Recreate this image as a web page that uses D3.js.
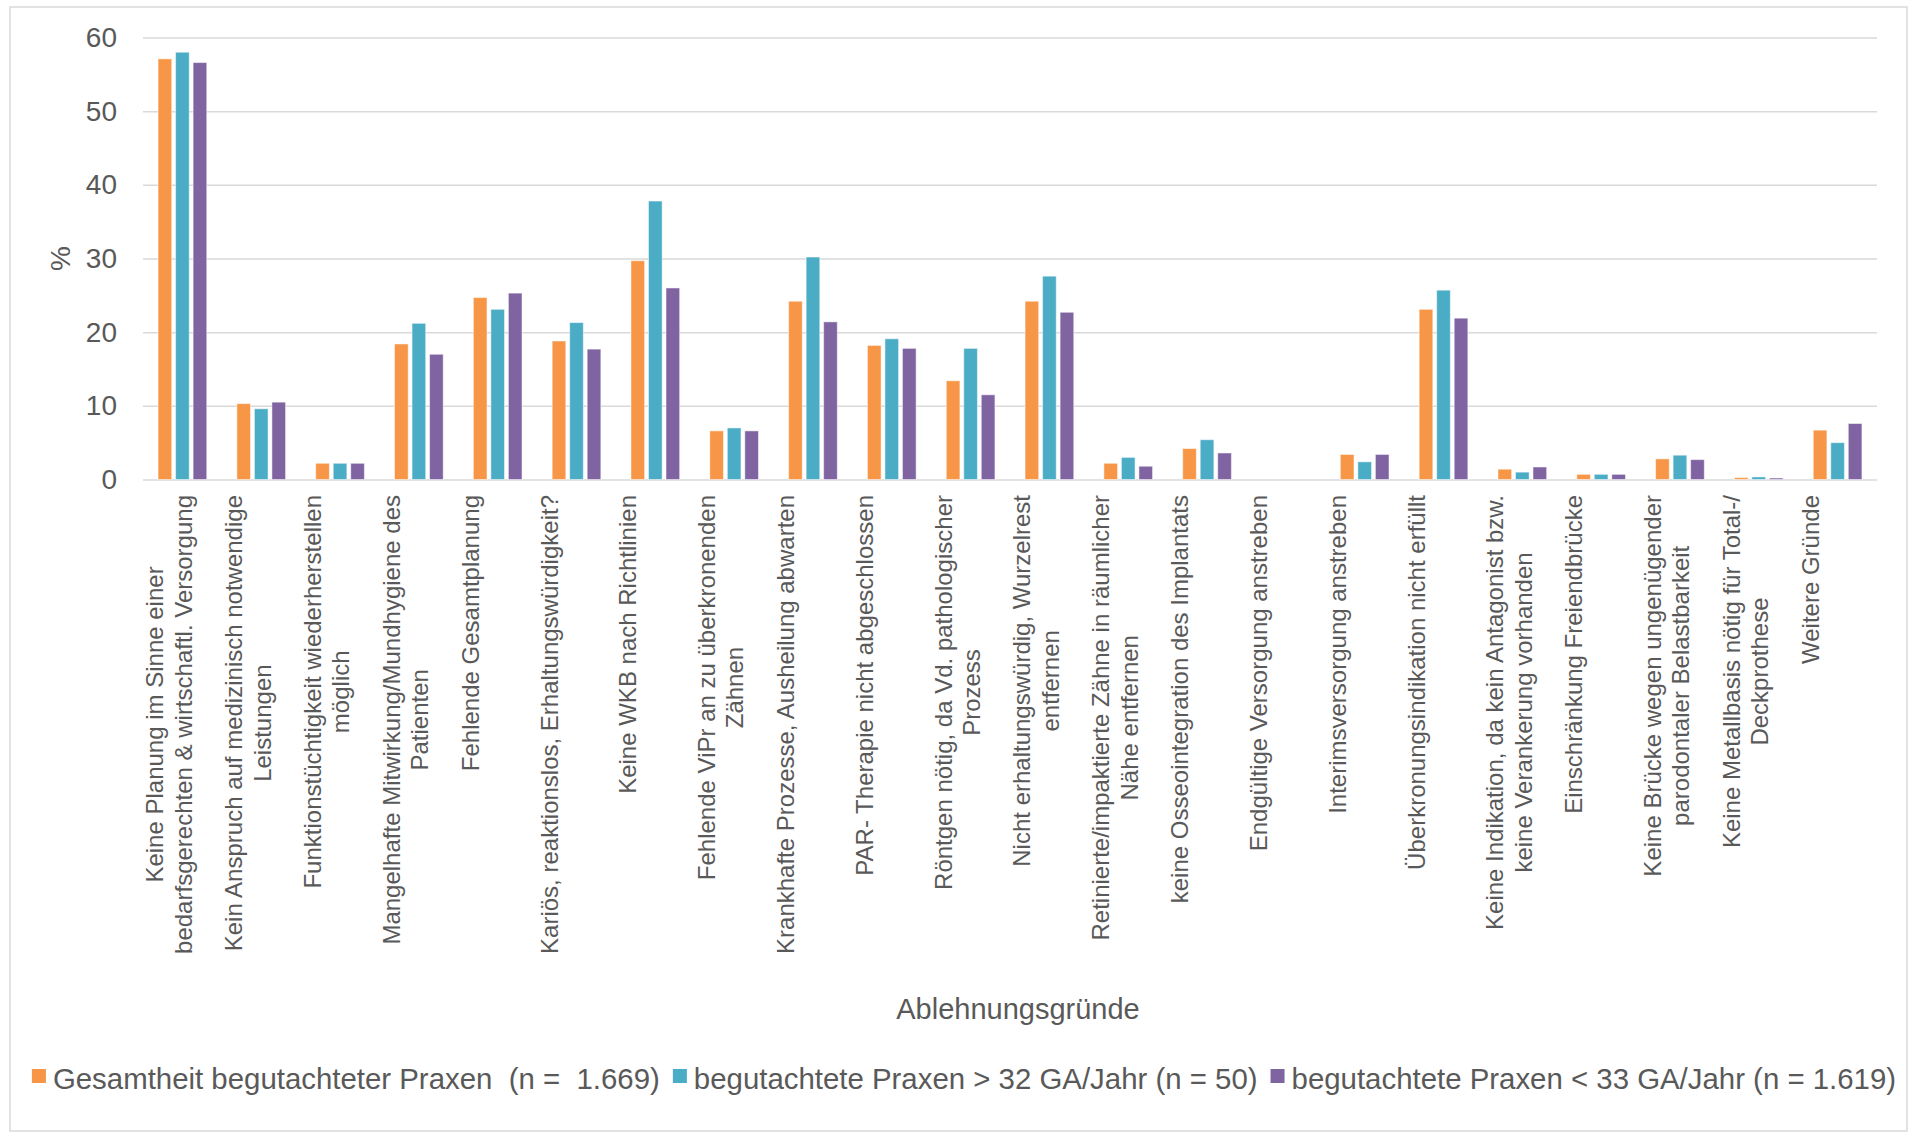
<!DOCTYPE html>
<html>
<head>
<meta charset="utf-8">
<script src="https://cdn.jsdelivr.net/npm/d3@7"></script>
<style>
  body { margin: 0; background: #fff; }
  text { font-family: Arial, "Liberation Sans", sans-serif; fill: #595959; }
</style>
</head>
<body>
<div class="container"></div>
<script>
// categories, wrapped lines split by \n
var categories = [
	"Keine Planung im Sinne einer\nbedarfsgerechten & wirtschaftl. Versorgung",
	"Kein Anspruch auf medizinisch notwendige\nLeistungen",
	"Funktionstüchtigkeit wiederherstellen\nmöglich",
	"Mangelhafte Mitwirkung/Mundhygiene des\nPatienten",
	"Fehlende Gesamtplanung",
	"Kariös, reaktionslos, Erhaltungswürdigkeit?",
	"Keine WKB nach Richtlinien",
	"Fehlende ViPr an zu überkronenden\nZähnen",
	"Krankhafte Prozesse, Ausheilung abwarten",
	"PAR- Therapie nicht abgeschlossen",
	"Röntgen nötig, da Vd. pathologischer\nProzess",
	"Nicht erhaltungswürdig, Wurzelrest\nentfernen",
	"Retinierte/impaktierte Zähne in räumlicher\nNähe entfernen",
	"keine Osseointegration des Implantats",
	"Endgültige Versorgung anstreben",
	"Interimsversorgung anstreben",
	"Überkronungsindikation nicht erfüllt",
	"Keine Indikation, da kein Antagonist bzw.\nkeine Verankerung vorhanden",
	"Einschränkung Freiendbrücke",
	"Keine Brücke wegen ungenügender\nparodontaler Belastbarkeit",
	"Keine Metallbasis nötig für Total-/\nDeckprothese",
	"Weitere Gründe"
];

var seriesNames = [
	"Gesamtheit begutachteter Praxen  (n =  1.669)",
	"begutachtete Praxen > 32 GA/Jahr (n = 50)",
	"begutachtete Praxen < 33 GA/Jahr (n = 1.619)"
];

var gesamt = [57.1, 10.3, 2.2, 18.4, 24.7, 18.8, 29.7, 6.6, 24.2, 18.2, 13.4, 24.2, 2.2, 4.2, 0, 3.4, 23.1, 1.4, 0.7, 2.8, 0.25, 6.7];
var ueber32 = [58.0, 9.6, 2.2, 21.2, 23.1, 21.3, 37.8, 7.0, 30.2, 19.1, 17.8, 27.6, 3.0, 5.4, 0, 2.4, 25.7, 1.0, 0.7, 3.3, 0.35, 5.0];
var unter33 = [56.6, 10.5, 2.2, 17.0, 25.3, 17.7, 26.0, 6.6, 21.4, 17.8, 11.5, 22.7, 1.8, 3.6, 0, 3.4, 21.9, 1.7, 0.7, 2.7, 0.2, 7.6];

var yTicks = [0, 10, 20, 30, 40, 50, 60];
var colors = ["#F79646", "#4BACC6", "#8064A2"];

var W = 1921, H = 1136;
var plotLeft = 143, plotRight = 1877, plotTop = 37.5, plotBase = 479.5;

var svg = d3.select(".container").insert("svg")
	.attr("width", W)
	.attr("height", H);

// chart border
svg.append("rect")
	.attr("x", 10).attr("y", 7)
	.attr("width", 1897).attr("height", 1124)
	.attr("fill", "#fff")
	.attr("stroke", "#D9D9D9")
	.attr("stroke-width", 1.5);

var x = d3.scaleBand().domain(d3.range(categories.length)).range([plotLeft, plotRight]);
var xs = d3.scaleBand().domain([0, 1, 2]).range([0, x.bandwidth()]).paddingInner(0.22).paddingOuter(0.86);
var y = d3.scaleLinear().domain([0, 60]).range([plotBase, plotTop]);

// y axis with gridlines
var yAxis = svg.append("g")
	.attr("transform", "translate(" + plotLeft + ",0)")
	.call(d3.axisLeft(y).tickValues(yTicks).tickSize(-(plotRight - plotLeft)).tickPadding(26));
yAxis.select(".domain").remove();
yAxis.selectAll(".tick line").attr("stroke", "#D9D9D9").attr("stroke-width", 1.5);
yAxis.selectAll(".tick text")
	.style("font-size", "28px")
	.style("font-family", "Arial, 'Liberation Sans', sans-serif")
	.attr("fill", "#595959");

svg.append("text")
	.attr("transform", "translate(60," + y(30) + ") rotate(-90)")
	.attr("text-anchor", "middle")
	.attr("dy", "0.35em")
	.style("font-size", "28px")
	.text("%");

// bars
var series = [gesamt, ueber32, unter33];
series.forEach(function(vals, s) {
	svg.append("g").selectAll("rect")
		.data(vals)
		.join("rect")
		.attr("x", function(d, i) { return x(i) + xs(s); })
		.attr("width", xs.bandwidth())
		.attr("y", function(d) { return y(d); })
		.attr("height", function(d) { return plotBase - y(d); })
		.attr("fill", colors[s])
		.attr("stroke", "#fff")
		.attr("stroke-opacity", 0.5)
		.attr("stroke-width", 1);
});

// category labels, rotated, lines centred on each other, top aligned
var labelTop = 495, lineH = 28.3;
categories.forEach(function(c, i) {
	var lines = c.split("\n");
	var cx = x(i) + x.bandwidth() / 2;
	var g = svg.append("g").attr("transform", "translate(" + cx + "," + labelTop + ") rotate(-90)");
	var texts = g.selectAll("text").data(lines).join("text")
		.attr("text-anchor", "middle")
		.attr("y", function(d, j) { return -19 + j * lineH; })
		.style("font-size", "24px")
		.text(function(d) { return d; });
	var maxLen = 0;
	texts.each(function() { maxLen = Math.max(maxLen, this.getComputedTextLength()); });
	texts.attr("x", -maxLen / 2);
});

svg.append("text")
	.attr("x", 1018).attr("y", 1019)
	.attr("text-anchor", "middle")
	.style("font-size", "29px")
	.text("Ablehnungsgründe");

// legend
var legend = svg.append("g");
var lx = 0;
seriesNames.forEach(function(name, s) {
	var item = legend.append("g").attr("transform", "translate(" + lx + ",0)");
	item.append("rect").attr("x", 0).attr("y", -20).attr("width", 14).attr("height", 14).attr("fill", colors[s]);
	var t = item.append("text").attr("x", 21).attr("y", 0)
		.style("font-size", "29.4px")
		.style("white-space", "pre")
		.text(name);
	lx += 21 + t.node().getComputedTextLength() + 13;
});
lx -= 13;
legend.attr("transform", "translate(" + (964 - lx / 2) + ",1089)");
</script>
</body>
</html>
